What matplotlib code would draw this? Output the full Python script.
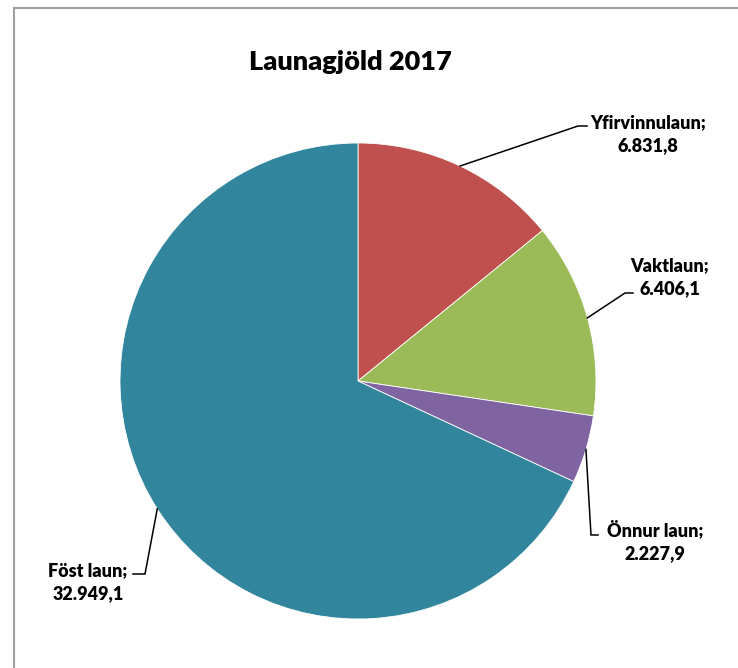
import numpy as np
import matplotlib
matplotlib.use("Agg")
import matplotlib.pyplot as plt
from matplotlib.lines import Line2D

categories = ["Yfirvinnulaun", "Vaktlaun", "Önnur laun", "Föst laun"]
values = [6831.8, 6406.1, 2227.9, 32949.1]
value_labels = ["6.831,8", "6.406,1", "2.227,9", "32.949,1"]
colors = ["#C0504D", "#9BBB59", "#8064A2", "#31859C"]
title = "Launagjöld 2017"

W, H = 738, 668
fig = plt.figure(figsize=(W / 100, H / 100), dpi=100)
plt.rcParams['font.family'] = ['Lato', 'DejaVu Sans']

cx, cy, R = 358, 381, 238
ax = fig.add_axes([(cx - R) / W, (H - cy - R) / H, 2 * R / W, 2 * R / H])
wedges, _ = ax.pie(values, colors=colors, startangle=90, counterclock=False,
                   radius=1.0, wedgeprops=dict(edgecolor="white", linewidth=0.6))
ax.set_xlim(-1, 1)
ax.set_ylim(-1, 1)
ax.set_aspect("equal")
ax.axis("off")

def px(x, y):
    return ((x - cx) / R, (cy - y) / R)

# label layout (pixel positions): text center, elbow, end of horizontal tick
layout = [
    dict(text=(648, 134), elbow=(578, 126), end=(587, 126)),
    dict(text=(670, 277), elbow=(625, 293), end=(633, 293)),
    dict(text=(655, 541), elbow=(591, 535), end=(598, 535)),
    dict(text=(88, 582), elbow=(145, 574), end=(133, 574)),
]

for w, cat, vl, lay in zip(wedges, categories, value_labels, layout):
    ang = np.deg2rad((w.theta1 + w.theta2) / 2)
    sx, sy = np.cos(ang), np.sin(ang)
    ex, ey = px(*lay["elbow"])
    tx, ty = px(*lay["end"])
    ax.plot([sx, ex, tx], [sy, ey, ty], color="black", lw=1.1,
            solid_joinstyle="miter", clip_on=False)
    lx, ly = px(*lay["text"])
    ax.text(lx, ly, f"{cat};\n{vl}", ha="center", va="center", fontsize=13,
            fontweight="heavy", linespacing=1.4, clip_on=False)

fig.text(350 / W, 1 - 62 / H, title, ha="center", va="center",
         fontsize=19.5, fontweight="heavy")

# chart border (gray)
fig.add_artist(Line2D([13.5 / W, 13.5 / W], [0, 1 - 8 / H], transform=fig.transFigure,
                      color="#A0A0A0", lw=1.5))
fig.add_artist(Line2D([13.5 / W, 1], [1 - 8 / H, 1 - 8 / H], transform=fig.transFigure,
                      color="#A0A0A0", lw=1.5))

fig.savefig("out.png", dpi=100)
